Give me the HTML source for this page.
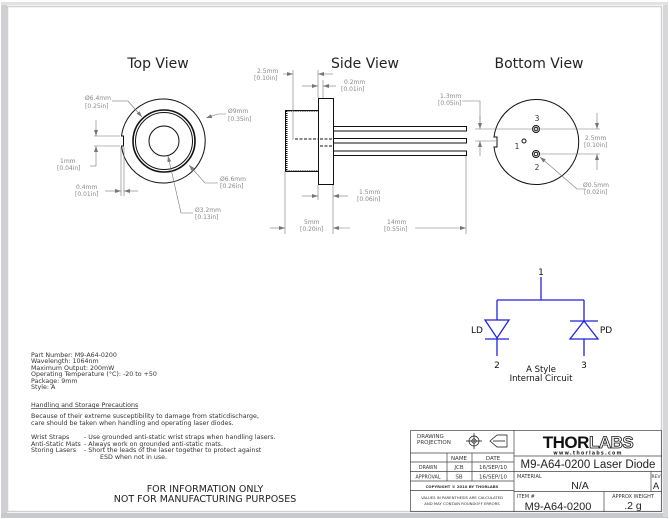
<!DOCTYPE html>
<html><head><style>
html,body{margin:0;padding:0;background:#fff;}
svg{display:block;font-family:"DejaVu Sans","Liberation Sans",sans-serif;}
.d{fill:#888;font-size:6px;}
.t{fill:#222;font-size:14px;text-anchor:middle;}
.s{fill:#333;font-size:6.3px;}
.tb{fill:#333;font-size:5.5px;}
.L{font-family:"Liberation Sans",sans-serif;}
</style></head><body>
<svg width="669" height="519" viewBox="0 0 669 519" xmlns="http://www.w3.org/2000/svg">
<defs>
<marker id="a" markerWidth="6" markerHeight="4" refX="6" refY="2" orient="auto" markerUnits="userSpaceOnUse"><path d="M0,0 L6,2 L0,4z" fill="#777"/></marker>
</defs>
<rect x="0" y="0" width="669" height="519" fill="#fff"/>
<rect x="1" y="2" width="6" height="515" fill="#cfd0d4"/>
<rect x="1" y="513" width="667" height="5" fill="#c8c9cd"/>
<rect x="663" y="2" width="5" height="515" fill="#d6d7da"/>
<rect x="1" y="2" width="667" height="3" fill="#e2e2e2"/>
<rect x="7.5" y="6.5" width="654" height="505" fill="#fff" stroke="#d0d0d0" stroke-width="1.5"/>

<!-- Top View -->
<text class="t" x="158" y="68">Top View</text>
<g fill="none" stroke="#111" stroke-width="1">
<path d="M121.5,136 A42,42 0 1 1 121.5,146 L123.5,146 L123.5,136 Z"/>
<circle cx="164" cy="141" r="31" stroke-width="1.6"/>
<circle cx="164" cy="141" r="28.5"/>
<circle cx="164" cy="141" r="15"/>
</g>
<g stroke="#777" stroke-width="0.6" fill="none">
<path d="M112,101 L128,101" /><path d="M128,101 L142,117" marker-end="url(#a)"/>
<path d="M226,114 L218,114 L206,118" marker-end="url(#a)"/>
<path d="M94,136 L120,136 M94,146 L120,146"/>
<path d="M96,120 L96,136" marker-end="url(#a)"/><path d="M96,166 L96,146" marker-end="url(#a)"/>
<path d="M90,166 L96,166"/>
<path d="M121,147 L121,196 M124,147 L124,196"/>
<path d="M105,191 L121,191" marker-end="url(#a)"/><path d="M138,191 L124,191" marker-end="url(#a)"/>
<path d="M218,183 L205,183 L189,165" marker-end="url(#a)"/>
<path d="M193,213 L181,213 L168,156" marker-end="url(#a)"/>
</g>
<text class="d" x="85" y="100">Ø6.4mm</text><text class="d" x="85" y="108">[0.25in]</text>
<text class="d" x="228" y="113">Ø9mm</text><text class="d" x="228" y="121">[0.35in]</text>
<text class="d" x="60" y="163">1mm</text><text class="d" x="57" y="170">[0.04in]</text>
<text class="d" x="76" y="189">0.4mm</text><text class="d" x="75" y="196">[0.01in]</text>
<text class="d" x="220" y="181">Ø6.6mm</text><text class="d" x="220" y="188">[0.26in]</text>
<text class="d" x="195" y="212">Ø3.2mm</text><text class="d" x="195" y="219">[0.13in]</text>

<!-- Side View -->
<text class="t" x="365" y="68">Side View</text>
<g fill="none" stroke="#111" stroke-width="1">
<rect x="285.5" y="110.5" width="33" height="61"/>
<line x1="286.5" y1="111" x2="286.5" y2="171" stroke-width="2" stroke-dasharray="1,1"/>
<path d="M286,111 H318 M286,171 H318" stroke-dasharray="1.5,0.8"/>
<rect x="318.5" y="98.5" width="15" height="86"/>
<rect x="333.5" y="126.5" width="133" height="4.5"/>
<rect x="333.5" y="138.5" width="133" height="4.5"/>
<rect x="333.5" y="151" width="133" height="4.5"/>
<path d="M295,139 H318 M320,139 H332 M320,146 H332" stroke-dasharray="3,1.5"/>
</g>
<g stroke="#777" stroke-width="0.6" fill="none">
<path d="M293,70 V140 M318,70 V98 M323,80 V98 M285,171 V234 M333,185 V234 M466,156 V234 M318,185 V200"/>
<path d="M283,74 L293,74" marker-end="url(#a)"/><path d="M333,74 L318,74" marker-end="url(#a)"/>
<path d="M302,86 L318,86" marker-end="url(#a)"/><path d="M336,86 L323,86" marker-end="url(#a)"/>
<path d="M302,196 L318,196" marker-end="url(#a)"/><path d="M348,196 L333,196" marker-end="url(#a)"/>
<path d="M270,228 L285,228" marker-end="url(#a)"/>
<path d="M350,228 L333,228" marker-end="url(#a)"/><path d="M415,228 L466,228" marker-end="url(#a)"/>
</g>
<text class="d" x="257" y="73">2.5mm</text><text class="d" x="254" y="80">[0.10in]</text>
<text class="d" x="344" y="84">0.2mm</text><text class="d" x="341" y="91">[0.01in]</text>
<text class="d" x="359" y="194">1.5mm</text><text class="d" x="357" y="201">[0.06in]</text>
<text class="d" x="304" y="224">5mm</text><text class="d" x="300" y="231">[0.20in]</text>
<text class="d" x="387" y="224">14mm</text><text class="d" x="384" y="231">[0.55in]</text>

<!-- Bottom View -->
<text class="t" x="539" y="68">Bottom View</text>
<g fill="none" stroke="#111" stroke-width="1">
<path d="M494,137 A42.5,42.5 0 1 1 494,147 L497,147 L497,137 Z"/>
<circle cx="536" cy="129" r="3.5"/><circle cx="536" cy="129" r="1.8"/>
<circle cx="536" cy="154" r="3.5"/><circle cx="536" cy="154" r="1.8"/>
<circle cx="524" cy="141" r="2"/>
</g>
<g stroke="#777" stroke-width="0.6" fill="none">
<path d="M475,129 H600 M475,141 H497 M540,154 H600"/>
<path d="M462,101 H480 V122" /><path d="M480,116 L480,129" marker-end="url(#a)"/>
<path d="M480,156 L480,141" marker-end="url(#a)"/>
<path d="M597,113 L597,129" marker-end="url(#a)"/><path d="M597,170 L597,154" marker-end="url(#a)"/>
<path d="M586,189 L577,189 L540,157" marker-end="url(#a)"/>
</g>
<text class="d" x="440" y="98">1.3mm</text><text class="d" x="438" y="105">[0.05in]</text>
<text class="d" x="585" y="140">2.5mm</text><text class="d" x="584" y="147">[0.10in]</text>
<text class="d" x="583" y="187">Ø0.5mm</text><text class="d" x="584" y="194">[0.02in]</text>
<text x="537" y="121" font-size="7.5" fill="#333" text-anchor="middle">3</text>
<text x="517" y="149" font-size="7.5" fill="#333" text-anchor="middle">1</text>
<text x="537" y="170" font-size="7.5" fill="#333" text-anchor="middle">2</text>

<!-- circuit -->
<g stroke="#2222dd" stroke-width="1.3" fill="none">
<path d="M541,277 V300 M497,300 H584 M497,300 V320 M584,300 V321 M497,338 V356 M584,339 V356"/>
<path d="M485,320 H509 L497,338 Z M485,339 H509"/>
<path d="M570,321 H598 M570,339 H598 L584,321 Z"/>
</g>
<g font-size="9" fill="#111" text-anchor="middle">
<text x="541" y="275">1</text>
<text x="497" y="368">2</text>
<text x="584" y="368">3</text>
<text x="477" y="333">LD</text>
<text x="606" y="333">PD</text>
<text x="541" y="372" font-size="8.5">A Style</text>
<text x="541" y="381" font-size="8.5">Internal Circuit</text>
</g>

<!-- notes -->
<g class="s">
<text x="31" y="357">Part Number: M9-A64-0200</text>
<text x="31" y="363">Wavelength:  1064nm</text>
<text x="31" y="370">Maximum Output: 200mW</text>
<text x="31" y="376">Operating Temperature (°C): -20 to +50</text>
<text x="31" y="383">Package: 9mm</text>
<text x="31" y="389">Style: A</text>
<text x="31" y="407" text-decoration="underline">Handling and Storage Precautions</text>
<text x="31" y="418">Because of their extreme susceptibility to damage from staticdischarge,</text>
<text x="31" y="425">care should be taken when handling and operating laser diodes.</text>
<text x="31" y="439">Wrist Straps</text><text x="84" y="439">- Use grounded anti-static wrist straps when handling lasers.</text>
<text x="31" y="446">Anti-Static Mats</text><text x="84" y="446">- Always work on grounded anti-static mats.</text>
<text x="31" y="452">Storing Lasers</text><text x="84" y="452">- Short the leads of the laser together to protect against</text>
<text x="100" y="459">ESD when not in use.</text>
</g>
<text x="205" y="492" font-size="9.5" fill="#222" text-anchor="middle">FOR INFORMATION ONLY</text>
<text x="205" y="502" font-size="9.5" fill="#222" text-anchor="middle">NOT FOR MANUFACTURING PURPOSES</text>

<!-- title block -->
<g stroke="#444" stroke-width="0.7" fill="none">
<rect x="410.5" y="430.5" width="251" height="81"/>
<path d="M514,430 V512 M410,453 H514 M410,462 H514 M410,471.5 H514 M410,481 H514 M410,490.5 H514"/>
<path d="M447,453 V481 M472,453 V481"/>
<path d="M514,456 H662 M514,471.5 H662 M514,491.5 H662 M651,471.5 V491.5 M604,491.5 V512"/>
<circle cx="474" cy="441" r="5" stroke="#111"/><circle cx="474" cy="441" r="2.2" stroke="#111"/>
<path d="M466,441 H482 M474,433 V449" stroke="#111"/>
<path d="M490,441 L497,435 H507 V447 H497 Z M493,441 H505" stroke="#111"/>
</g>
<g class="tb">
<text x="417" y="438">DRAWING</text><text x="417" y="444">PROJECTION</text>
<text x="459" y="460" text-anchor="middle">NAME</text><text x="493" y="460" text-anchor="middle">DATE</text>
<text x="428" y="469" text-anchor="middle" font-size="4.8">DRAWN</text><text x="459" y="469" text-anchor="middle">JCB</text><text x="493" y="469" text-anchor="middle">16/SEP/10</text>
<text x="428" y="478.5" text-anchor="middle" font-size="4.8">APPROVAL</text><text x="459" y="478.5" text-anchor="middle">SB</text><text x="493" y="478.5" text-anchor="middle">16/SEP/10</text>
<text x="462" y="488" text-anchor="middle" font-size="3.8" font-weight="bold">COPYRIGHT © 2010 BY THORLABS</text>
<text x="462" y="499" text-anchor="middle" font-size="3.8">VALUES IN PARENTHESIS ARE CALCULATED</text>
<text x="462" y="505" text-anchor="middle" font-size="3.8">AND MAY CONTAIN ROUNDOFF ERRORS</text>
<text x="517" y="478" font-size="5">MATERIAL</text>
<text x="656" y="478" font-size="4.5" text-anchor="middle">REV</text>
<text x="517" y="498" font-size="5">ITEM #</text>
<text x="633" y="498" font-size="5" text-anchor="middle">APPROX WEIGHT</text>
</g>
<text x="588" y="448" text-anchor="middle" class="L" font-weight="bold" font-size="17" fill="#111" letter-spacing="-0.5">THOR<tspan fill="#fff" stroke="#111" stroke-width="0.8">LABS</tspan></text>
<text x="588" y="454.5" text-anchor="middle" font-size="4.8" fill="#222" letter-spacing="1.2" font-weight="bold">www.thorlabs.com</text>
<text x="588" y="468" text-anchor="middle" class="L" font-size="11.5" fill="#222">M9-A64-0200 Laser Diode</text>
<text x="580" y="489" text-anchor="middle" class="L" font-size="10.5" fill="#222">N/A</text>
<text x="656" y="489" text-anchor="middle" class="L" font-size="9.5" fill="#222">A</text>
<text x="558" y="510" text-anchor="middle" class="L" font-size="11" fill="#222">M9-A64-0200</text>
<text x="633" y="509" text-anchor="middle" class="L" font-size="10.5" fill="#222">.2 g</text>
</svg>
</body></html>
